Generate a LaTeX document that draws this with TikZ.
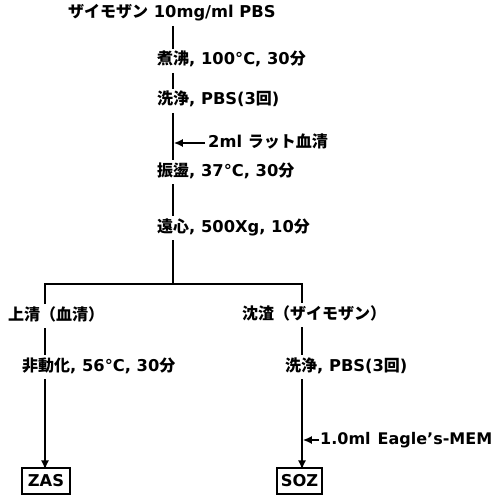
\documentclass[tikz,border=0pt]{standalone}
\usepackage{fontspec}
\setmainfont{DejaVu Sans}
\newfontfamily\jp{Noto Sans CJK JP}
\usetikzlibrary{arrows.meta}
\newcommand\J[1]{{\jp\fontsize{16}{19}\selectfont #1}}
\tikzset{
  txt/.style={anchor=west, inner sep=0pt, text height=11pt, text depth=3pt, outer ysep=5pt,
    font=\fontsize{16.3}{19}\selectfont\bfseries},
  ln/.style={line width=1.6pt},
  arr/.style={line width=1.6pt, -{Latex[length=9pt,width=8pt]}},
  bx/.style={draw, line width=1.1pt, inner sep=0pt, minimum height=26pt,
    font=\fontsize{16.3}{19}\selectfont\bfseries}
}
\begin{document}
\begin{tikzpicture}[x=1pt,y=-1pt]
\useasboundingbox (0,0) rectangle (496,497);
\coordinate (mx) at (173,0);
\coordinate (br) at (173,284);
\coordinate (L) at (45,284);
\coordinate (R) at (302,284);
\node[txt] (t0) at (68,14) {\J{ザイモザン}\ 10mg/ml PBS};
\node[txt] (t1) at (157,61) {\J{煮沸}, 100°C, 30\J{分}};
\node[txt] (t2) at (157,101) {\J{洗浄}, PBS(3\J{回})};
\node[txt] (a1) at (208,143) {2ml \J{ラット血清}};
\node[txt] (t3) at (157,172) {\J{振盪}, 37°C, 30\J{分}};
\node[txt] (t4) at (157,228) {\J{遠心}, 500Xg, 10\J{分}};
\node[txt] (t5) at (8,316) {\J{上清（血清）}};
\node[txt] (t6) at (242,315) {\J{沈渣（ザイモザン）}};
\node[txt] (t7) at (22,367) {\J{非動化}, 56°C, 30\J{分}};
\node[txt] (t8) at (285,367) {\J{洗浄}, PBS(3\J{回})};
\node[txt, font=\fontsize{16}{19}\selectfont\bfseries] (e1) at (320,440) {1.0ml\hspace{7pt}Eagle's-MEM};
\node[bx, minimum width=48pt] (zas) at (46,481) {ZAS};
\node[bx, minimum width=45pt] (soz) at (299.5,481) {SOZ};

\draw[ln] (t0.south -| mx) -- (t1.north -| mx);
\draw[ln] (t1.south -| mx) -- (t2.north -| mx);
\draw[ln] (t2.south -| mx) -- (t3.north -| mx);
\draw[ln] (t3.south -| mx) -- (t4.north -| mx);
\draw[ln] (t4.south -| mx) -- (br);
\draw[ln] (t5.north -| L) -- (L) -- (R) -- (t6.north -| R);
\draw[ln] (t5.south -| L) -- (t7.north -| L);
\draw[ln] (t6.south -| R) -- (t8.north -| R);
\draw[arr] (t7.south -| L) -- ([yshift=-2pt]zas.north -| L);
\draw[arr] (t8.south -| R) -- ([yshift=-2pt]soz.north -| R);
\draw[arr] ([xshift=-3pt]a1.west) -- ([xshift=0.8pt]a1.west -| mx);
\draw[arr] ([xshift=-1pt]e1.west) -- ([xshift=0.8pt]e1.west -| R);
\end{tikzpicture}
\end{document}
